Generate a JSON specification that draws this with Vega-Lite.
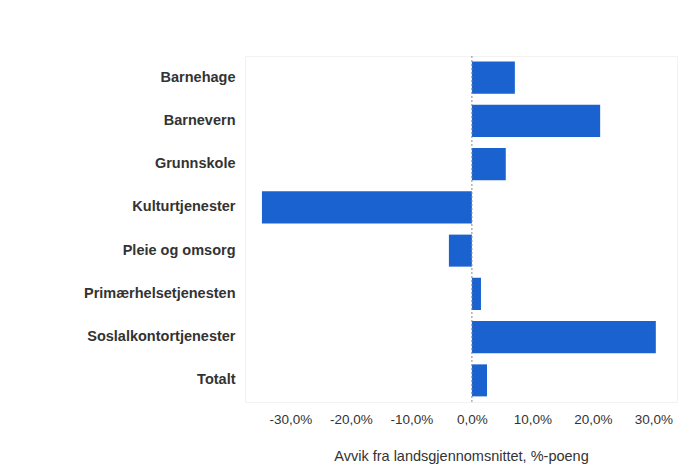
{
  "$schema": "https://vega.github.io/schema/vega-lite/v6.json",
  "autosize": "none",
  "width": 432,
  "height": 346,
  "padding": {"left": 245, "top": 56, "right": 7, "bottom": 69},
  "background": "white",
  "config": {"view": {"stroke": "#f2f2f2"}, "font": "Liberation Sans"},
  "data": {"values": [
    {"kategori": "Barnehage", "avvik": 0.071},
    {"kategori": "Barnevern", "avvik": 0.212},
    {"kategori": "Grunnskole", "avvik": 0.056},
    {"kategori": "Kulturtjenester", "avvik": -0.347},
    {"kategori": "Pleie og omsorg", "avvik": -0.038},
    {"kategori": "Primærhelsetjenesten", "avvik": 0.015},
    {"kategori": "Soslalkontortjenester", "avvik": 0.304},
    {"kategori": "Totalt", "avvik": 0.025}
  ]},
  "layer": [
    {
      "mark": {"type": "bar", "color": "#1a62cf"},
      "encoding": {
        "y": {"field": "kategori", "type": "nominal", "sort": null,
          "scale": {"paddingInner": 0.26, "paddingOuter": 0.13},
          "axis": {"title": null, "ticks": false, "domain": false, "labelFontWeight": "bold", "labelFontSize": 14.5, "labelColor": "#333333", "labelPadding": 10, "labelFont": "Liberation Sans"}},
        "x": {"field": "avvik", "type": "quantitative",
          "scale": {"domain": [-0.375, 0.339], "nice": false, "zero": false},
          "axis": {"title": "Avvik fra landsgjennomsnittet, %-poeng", "values": [-0.3, -0.2, -0.1, 0, 0.1, 0.2, 0.3],
            "labelExpr": "replace(replace(format(datum.value, '.1%'), '.', ','), '\u2212', '-')",
            "grid": false, "domain": false, "ticks": false, "labelPadding": 10, "labelFontSize": 13.5, "labelColor": "#333333",
            "titleFontSize": 14.5, "titleFontWeight": "normal", "titleColor": "#333333", "titlePadding": 24, "labelFont": "Liberation Sans", "titleFont": "Liberation Sans"}}
      }
    },
    {
      "data": {"values": [{"x": 0}]},
      "mark": {"type": "rule", "color": "#888888", "strokeDash": [2, 2], "strokeWidth": 1},
      "encoding": {"x": {"field": "x", "type": "quantitative"}}
    }
  ]
}
